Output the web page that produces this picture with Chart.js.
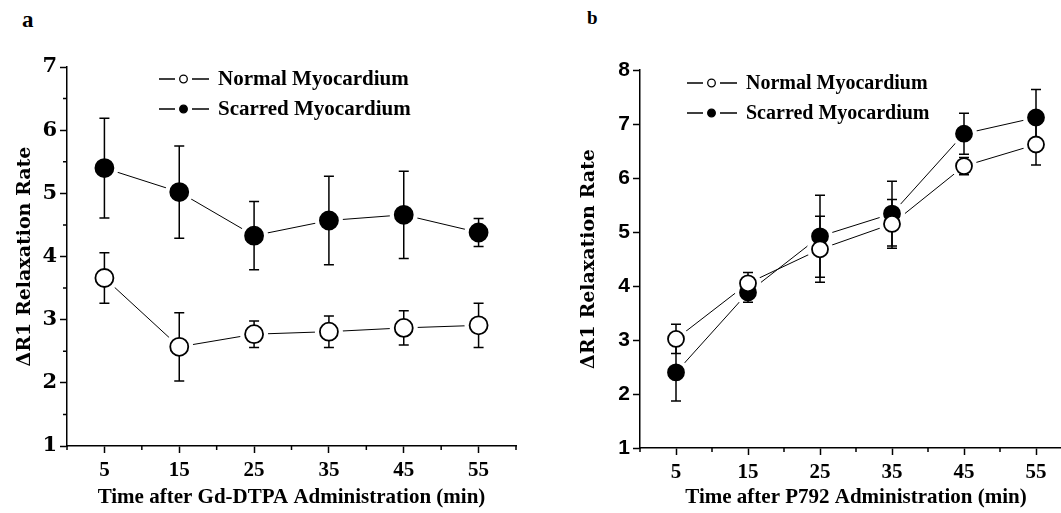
<!DOCTYPE html>
<html>
<head>
<meta charset="utf-8">
<script src="https://cdn.jsdelivr.net/npm/chart.js@4/dist/chart.umd.min.js"></script>
<style>
  html, body { margin: 0; padding: 0; background: #fff; overflow: hidden; width: 1061px; height: 513px; }
  canvas { position: absolute; top: 0; }
  .tag { position: absolute; color: #000; font-weight: bold; font-family: "Liberation Serif", serif; }
</style>
</head>
<body>
<div class="tag" style="left:22px;top:7px;font-size:23px">a</div>
<div class="tag" style="left:587px;top:7px;font-size:19px">b</div>
<canvas id="chartA" width="530" height="513" style="left:0"></canvas>
<canvas id="chartB" width="560" height="513" style="left:530px"></canvas>
<script>
// time points (min)
const times = [5, 15, 25, 35, 45, 55];
const xTickLabels = [5, 15, 25, 35, 45, 55];

// panel a: Gd-DTPA
const normalA = [3.66, 2.57, 2.77, 2.81, 2.87, 2.91];
const normalAErr = [0.40, 0.54, 0.21, 0.25, 0.27, 0.35];
const scarredA = [5.40, 5.02, 4.33, 4.57, 4.66, 4.38];
const scarredAErr = [0.79, 0.73, 0.54, 0.70, 0.69, 0.22];
const yTicksA = [1, 2, 3, 4, 5, 6, 7];

// panel b: P792
const normalB = [3.02, 4.05, 4.68, 5.15, 6.22, 6.62];
const normalBErr = [0.27, 0.20, 0.61, 0.45, 0.16, 0.38];
const scarredB = [2.40, 3.88, 4.92, 5.34, 6.82, 7.12];
const scarredBErr = [0.53, 0.18, 0.76, 0.60, 0.38, 0.52];
const yTicksB = [1, 2, 3, 4, 5, 6, 7, 8];

const seriesNames = ['Normal Myocardium', 'Scarred Myocardium'];

const toPoints = vals => vals.map((v, i) => ({ x: times[i], y: v }));

// error bars: drawn once, after the white halos and before the markers
const errorBars = {
  id: 'errorBars',
  beforeDatasetsDraw(chart) { chart.$barsDone = false; },
  beforeDatasetDraw(chart, args, opts) {
    const meta = chart.getDatasetMeta(args.index);
    if (chart.$barsDone || !meta._dataset.errors) return;
    chart.$barsDone = true;
    const { ctx, scales: { x, y } } = chart;
    ctx.save();
    ctx.strokeStyle = '#000';
    ctx.lineWidth = opts.width;
    chart.data.datasets.forEach(ds => {
      if (!ds.errors) return;
      ds.data.forEach((p, i) => {
        const px = x.getPixelForValue(p.x);
        const top = y.getPixelForValue(p.y + ds.errors[i]);
        const bot = y.getPixelForValue(p.y - ds.errors[i]);
        ctx.beginPath();
        ctx.moveTo(px, top); ctx.lineTo(px, bot);
        ctx.moveTo(px - opts.cap, top); ctx.lineTo(px + opts.cap, top);
        ctx.moveTo(px - opts.cap, bot); ctx.lineTo(px + opts.cap, bot);
        ctx.stroke();
      });
    });
    ctx.restore();
  }
};

// short minor ticks (the library draws only the major ones)
const minorTicks = {
  id: 'minorTicks',
  afterDraw(chart) {
    const { ctx, scales: { x, y } } = chart;
    ctx.save();
    ctx.strokeStyle = '#000';
    ctx.lineWidth = 1.5;
    ctx.beginPath();
    x.ticks.forEach(t => {
      if (xTickLabels.includes(t.value)) return;
      const px = x.getPixelForValue(t.value);
      ctx.moveTo(px, x.top); ctx.lineTo(px, x.top + 4);
    });
    y.ticks.forEach(t => {
      if (Number.isInteger(t.value)) return;
      const py = y.getPixelForValue(t.value);
      ctx.moveTo(y.right, py); ctx.lineTo(y.right - 4, py);
    });
    ctx.stroke();
    ctx.restore();
  }
};

// legend in the style of the figure: "— o — label"
const markerLegend = {
  id: 'markerLegend',
  afterDraw(chart, args, opts) {
    const ctx = chart.ctx;
    ctx.save();
    chart.data.datasets.forEach(d => {
      if (d.legendRow === undefined) return;
      const yy = opts.y + d.legendRow * opts.gap;
      ctx.strokeStyle = '#000';
      ctx.lineWidth = 1.3;
      ctx.beginPath();
      ctx.moveTo(opts.x, yy); ctx.lineTo(opts.x + 16, yy);
      ctx.moveTo(opts.x + 33, yy); ctx.lineTo(opts.x + 50, yy);
      ctx.stroke();
      ctx.beginPath();
      ctx.arc(opts.x + 24.5, yy, 3.8, 0, Math.PI * 2);
      ctx.fillStyle = d.pointBackgroundColor;
      ctx.fill();
      ctx.lineWidth = 1.3;
      ctx.stroke();
      ctx.fillStyle = '#000';
      ctx.font = opts.font;
      ctx.textBaseline = 'middle';
      ctx.fillText(d.label, opts.x + 59, yy + 1);
    });
    ctx.restore();
  }
};

function buildDatasets(normal, normalErr, scarred, scarredErr, r) {
  const sets = [];
  [[normal, normalErr, '#fff'], [scarred, scarredErr, '#000']].forEach(([vals, errs, fill], k) => {
    const pts = toPoints(vals);
    sets.push({ data: pts, showLine: true, borderColor: '#000', borderWidth: 1, pointRadius: 0, order: 3 });
    sets.push({ data: pts, showLine: false, pointRadius: r + 5, pointBackgroundColor: '#fff', pointBorderWidth: 0, order: 2 });
    sets.push({
      label: seriesNames[k], data: pts, errors: errs, legendRow: k, showLine: false,
      pointRadius: r, pointBackgroundColor: fill, pointBorderColor: '#000', pointBorderWidth: 1.8, order: 1
    });
  });
  return sets;
}

function makePanel(id, p) {
  return new Chart(document.getElementById(id), {
    type: 'scatter',
    data: { datasets: buildDatasets(p.normal, p.normalErr, p.scarred, p.scarredErr, p.r) },
    options: {
      responsive: false,
      animation: false,
      events: [],
      layout: { padding: { top: p.top, right: p.right, left: 0, bottom: 0 } },
      plugins: {
        legend: { display: false },
        tooltip: { enabled: false },
        errorBars: { width: 1.5, cap: 5 },
        markerLegend: p.legend
      },
      scales: {
        x: {
          type: 'linear', min: 0, max: 60,
          afterFit(s) { s.height = p.xHeight; },
          ticks: {
            stepSize: 5, autoSkip: false, maxRotation: 0, color: '#000', padding: 5,
            font: { family: 'Liberation Serif', weight: 'bold', size: 21 },
            callback: v => xTickLabels.includes(v) ? String(v) : ''
          },
          grid: {
            drawOnChartArea: false, tickLength: 7, tickWidth: 1.5,
            tickColor: c => xTickLabels.includes(c.tick.value) ? '#000' : 'rgba(0,0,0,0)'
          },
          border: { color: '#000', width: 1.5 },
          title: {
            display: true, text: p.xTitle, color: '#000', padding: { top: 0, bottom: 3 },
            font: { family: 'Liberation Serif', weight: 'bold', size: 21 }
          }
        },
        y: {
          min: 1, max: p.yMax,
          afterFit(s) { s.width = p.yWidth; },
          afterBuildTicks(s) {
            const list = [];
            p.yTicks.forEach((v, i) => {
              list.push({ value: v });
              if (i < p.yTicks.length - 1) list.push({ value: v + 0.5 });
            });
            s.ticks = list;
          },
          ticks: {
            color: '#000', padding: 3,
            font: p.yTickFont,
            callback: v => p.yTicks.includes(v) ? String(v) : ''
          },
          grid: {
            drawOnChartArea: false, tickLength: 7, tickWidth: 1.5,
            tickColor: c => p.yTicks.includes(c.tick.value) ? '#000' : 'rgba(0,0,0,0)'
          },
          border: { color: '#000', width: 1.5 },
          title: {
            display: true, text: 'ΔR1 Relaxation Rate', color: '#000',
            padding: { top: p.yTitlePad, bottom: 0 },
            font: { family: 'DejaVu Serif', weight: 'bold', size: 19 }
          }
        }
      }
    },
    plugins: [errorBars, minorTicks, markerLegend]
  });
}

makePanel('chartA', {
  normal: normalA, normalErr: normalAErr, scarred: scarredA, scarredErr: scarredAErr,
  r: 9, yMax: 7, yTicks: yTicksA, top: 67, right: 10, yWidth: 67, xHeight: 67, yTitlePad: 14,
  yTickFont: { family: 'DejaVu Serif', weight: 'bold', size: 21 },
  xTitle: 'Time after Gd-DTPA Administration (min)',
  legend: { x: 159, y: 79, gap: 30, font: 'bold 21px "Liberation Serif"' }
});

makePanel('chartB', {
  normal: normalB, normalErr: normalBErr, scarred: scarredB, scarredErr: scarredBErr,
  r: 8, yMax: 8, yTicks: yTicksB, top: 70, right: 18, yWidth: 110, xHeight: 65, yTitlePad: 48,
  yTickFont: { family: 'Liberation Sans', weight: 'bold', size: 21 },
  xTitle: 'Time after P792 Administration (min)',
  legend: { x: 157, y: 83, gap: 30, font: 'bold 20px "Liberation Serif"' }
});
</script>
</body>
</html>
